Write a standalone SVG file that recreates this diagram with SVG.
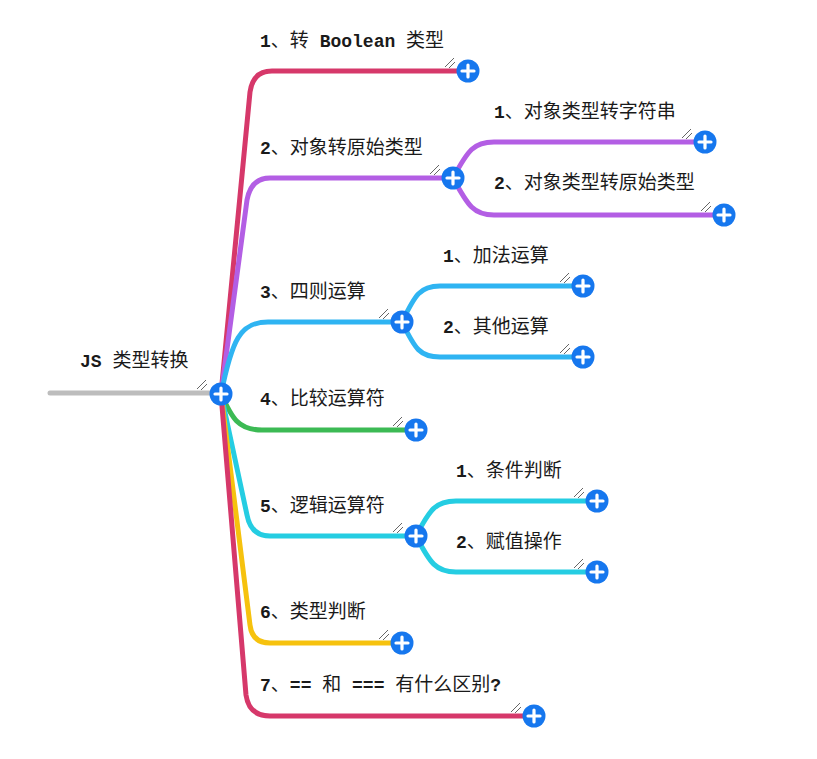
<svg xmlns="http://www.w3.org/2000/svg" xmlns:xlink="http://www.w3.org/1999/xlink" width="817" height="759" viewBox="0 0 817 759">
<style>
.c{fill:none;stroke-width:5;stroke-linecap:round;stroke-linejoin:round}
.t{font-family:"Liberation Mono","Noto Sans CJK SC",monospace;font-size:18px;fill:#1a1a1a}
.b{font-weight:bold}
.k{font-family:"Noto Sans CJK SC","Noto Sans",sans-serif;font-size:19px}
</style>
<defs>
<g id="plus">
<circle r="11.5" fill="#1677ee"/>
<path d="M-6,0H6M0,-6V6" stroke="#fff" stroke-width="3.2" stroke-linecap="round"/>
</g>
<g id="grip" stroke="#666" stroke-width="1" fill="none">
<path d="M-5,4L4,-5M-1,5L5,-1"/>
</g>
</defs>
<rect width="817" height="759" fill="#fff"/>
<g id="connectors">
<path class="c" stroke="#bdbdbd" d="M50,393H221"/>
<path class="c" stroke="#d6386a" d="M221,394L250,92Q253,71 272,71H468"/>
<path class="c" stroke="#b35ee4" d="M221,394L247,200Q251,178 270,178H453"/>
<path class="c" stroke="#2fb4f2" d="M221,394C232,340 240,322 268,322H402"/>
<path class="c" stroke="#3cba54" d="M221,394C232,418 238,430 262,430H416"/>
<path class="c" stroke="#25cde2" d="M221,394L247,515Q251,536 270,536H416"/>
<path class="c" stroke="#f6c20e" d="M221,394L250,625Q252,643 270,643H402"/>
<path class="c" stroke="#d6386a" d="M221,394L246,695Q249,716 270,716H534"/>
<path class="c" stroke="#b35ee4" d="M453,178C468,150 474,142 494,142H705"/>
<path class="c" stroke="#b35ee4" d="M453,178C468,206 474,215 494,215H724"/>
<path class="c" stroke="#2fb4f2" d="M402,322C415,295 420,286 440,286H583"/>
<path class="c" stroke="#2fb4f2" d="M402,322C415,349 420,357 440,357H583"/>
<path class="c" stroke="#25cde2" d="M416,536C430,509 436,501 456,501H597"/>
<path class="c" stroke="#25cde2" d="M416,536C430,563 436,572 456,572H597"/>
</g>
<g id="root">
<text class="t" x="80" y="367"><tspan class="b">JS </tspan><tspan class="k">类型转换</tspan></text>
<use xlink:href="#grip" x="202" y="385"/>
<use xlink:href="#plus" x="221" y="394"/>
</g>
<g id="n1">
<text class="t" x="260" y="47"><tspan class="b">1</tspan><tspan class="k">、转</tspan><tspan class="b"> Boolean </tspan><tspan class="k">类型</tspan></text>
<use xlink:href="#grip" x="450" y="63"/>
<use xlink:href="#plus" x="468" y="71"/>
</g>
<g id="n2">
<text class="t" x="260" y="154"><tspan class="b">2</tspan><tspan class="k">、对象转原始类型</tspan></text>
<use xlink:href="#grip" x="435" y="170"/>
<use xlink:href="#plus" x="453" y="178"/>
</g>
<g id="n2a">
<text class="t" x="494" y="118"><tspan class="b">1</tspan><tspan class="k">、对象类型转字符串</tspan></text>
<use xlink:href="#grip" x="687" y="134"/>
<use xlink:href="#plus" x="705" y="142"/>
</g>
<g id="n2b">
<text class="t" x="494" y="189"><tspan class="b">2</tspan><tspan class="k">、对象类型转原始类型</tspan></text>
<use xlink:href="#grip" x="706" y="207"/>
<use xlink:href="#plus" x="724" y="215"/>
</g>
<g id="n3">
<text class="t" x="260" y="298"><tspan class="b">3</tspan><tspan class="k">、四则运算</tspan></text>
<use xlink:href="#grip" x="384" y="314"/>
<use xlink:href="#plus" x="402" y="322"/>
</g>
<g id="n3a">
<text class="t" x="443" y="262"><tspan class="b">1</tspan><tspan class="k">、加法运算</tspan></text>
<use xlink:href="#grip" x="565" y="278"/>
<use xlink:href="#plus" x="583" y="286"/>
</g>
<g id="n3b">
<text class="t" x="443" y="333"><tspan class="b">2</tspan><tspan class="k">、其他运算</tspan></text>
<use xlink:href="#grip" x="565" y="349"/>
<use xlink:href="#plus" x="583" y="357"/>
</g>
<g id="n4">
<text class="t" x="260" y="405"><tspan class="b">4</tspan><tspan class="k">、比较运算符</tspan></text>
<use xlink:href="#grip" x="398" y="422"/>
<use xlink:href="#plus" x="416" y="430"/>
</g>
<g id="n5">
<text class="t" x="260" y="512"><tspan class="b">5</tspan><tspan class="k">、逻辑运算符</tspan></text>
<use xlink:href="#grip" x="398" y="528"/>
<use xlink:href="#plus" x="416" y="536"/>
</g>
<g id="n5a">
<text class="t" x="456" y="477"><tspan class="b">1</tspan><tspan class="k">、条件判断</tspan></text>
<use xlink:href="#grip" x="579" y="493"/>
<use xlink:href="#plus" x="597" y="501"/>
</g>
<g id="n5b">
<text class="t" x="456" y="548"><tspan class="b">2</tspan><tspan class="k">、赋值操作</tspan></text>
<use xlink:href="#grip" x="579" y="564"/>
<use xlink:href="#plus" x="597" y="572"/>
</g>
<g id="n6">
<text class="t" x="260" y="618"><tspan class="b">6</tspan><tspan class="k">、类型判断</tspan></text>
<use xlink:href="#grip" x="384" y="635"/>
<use xlink:href="#plus" x="402" y="643"/>
</g>
<g id="n7">
<text class="t" x="260" y="691"><tspan class="b">7</tspan><tspan class="k">、</tspan><tspan class="b">== </tspan><tspan class="k">和</tspan><tspan class="b"> === </tspan><tspan class="k">有什么区别</tspan><tspan class="b">?</tspan></text>
<use xlink:href="#grip" x="516" y="708"/>
<use xlink:href="#plus" x="534" y="716"/>
</g>
</svg>
